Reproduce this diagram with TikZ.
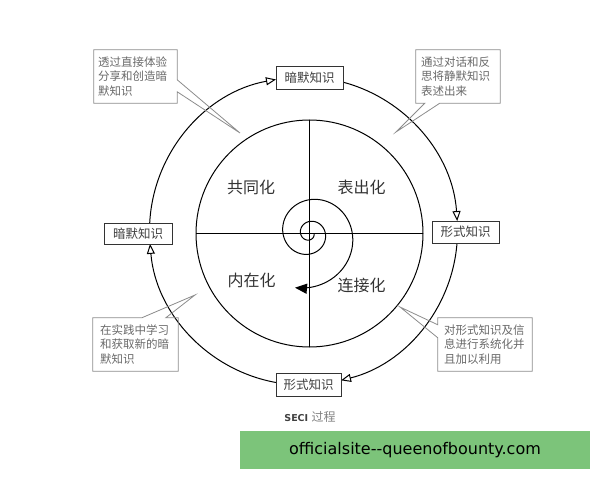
\documentclass[tikz,border=0pt]{standalone}
\usepackage{fontspec}
\newfontfamily\cjk{Noto Sans CJK SC}
\newfontfamily\sitefont{DejaVu Sans}[Ligatures=TeXOff]
\newfontfamily\capfont{DejaVu Sans}
\usepackage{tikz}
\usetikzlibrary{arrows.meta}
\definecolor{sitegreen}{RGB}{124,196,122}
\definecolor{notegray}{RGB}{105,105,105}

\begin{document}
\begin{tikzpicture}[x=1pt, y=1pt,
    cyc/.style={line width=1pt, -{Triangle[open, length=10pt, width=8pt]}},
    kbox/.style={draw=black!80, line width=0.9pt, fill=white, inner sep=0pt, minimum height=23pt,
        font=\cjk\fontsize{12.5}{14}\selectfont, text=black!75},
    quad/.style={font=\cjk\fontsize{16}{18}\selectfont, text=black!80},
    note/.style={inner sep=0pt, minimum height=53pt, align=left,
        font=\cjk\fontsize{11.5}{14.5}\selectfont, text=notegray},
    notebox/.style={draw=black!45, line width=0.8pt}]
    \useasboundingbox (0,0) rectangle (600,480);

    % outer cycle, clockwise
    \coordinate (O) at (303.5,249);
    \foreach \a/\b in {177/100.3, 75.1/3.7, -4.5/-75.9, 259.7/184.8}
        \draw[cyc] ([shift={(\a:154)}]O) arc[start angle=\a, end angle=\b, radius=154];

    \node[kbox, minimum width=67pt] (top) at (309.5,402.5) {暗默知识};
    \node[kbox, minimum width=67pt, minimum height=22pt] (right) at (465.5,248) {形式知识};
    \node[kbox, minimum width=65pt] (bottom) at (308.5,95.5) {形式知识};
    \node[kbox, minimum width=68pt, minimum height=21pt] (left) at (138,246.5) {暗默知识};

    % inner circle
    \coordinate (C) at (309.5,246.5);
    \draw[line width=1pt] (C) circle[radius=113.5];
    \draw[line width=1pt] ([yshift=113.5pt]C) -- ([yshift=-113.5pt]C);
    \draw[line width=1pt] ([xshift=-113.5pt]C) -- ([xshift=113.5pt]C);

    \node[quad] (soc) at (251,293) {共同化};
    \node[quad] (ext) at (361.7,293) {表出化};
    \node[quad] (int) at (251.7,199.3) {内在化};
    \node[quad] (com) at (361.7,195) {连接化};

    % spiral
    \draw[line width=1pt, shift={(C)}, -{Triangle[length=12pt, width=10pt]}]
        plot[domain=0:825, samples=240, variable=\t]
        ({(58*exp(0.002384*(\t-810))-4)*cos(\t)}, {-(58*exp(0.002384*(\t-810))-4)*sin(\t)});

    % notes
    \node[note, minimum width=83pt, text width=75pt] (n1) at (135.5,403.5) {透过直接体验\\分享和创造暗\\默知识};
    \coordinate (t1) at (240,347);
    \draw[notebox] (n1.north west) -- (n1.north east) -- ([yshift=-30pt]n1.north east) -- (t1)
        -- ([yshift=-42pt]n1.north east) -- (n1.south east) -- (n1.south west) -- cycle;

    \node[note, minimum width=84pt, text width=74pt] (n2) at (458,403.5) {通过对话和反\\思将静默知识\\表述出来};
    \coordinate (t2) at (396,348);
    \draw[notebox] (n2.south west) -- (n2.north west) -- (n2.north east) -- (n2.south east)
        -- ([xshift=24pt]n2.south west) -- (t2) -- ([xshift=9pt]n2.south west) -- cycle;

    \node[note, minimum width=85pt, text width=71pt] (n3) at (135.5,135.5) {在实践中学习\\和获取新的暗\\默知识};
    \coordinate (t3) at (195,185);
    \draw[notebox] (n3.north west) -- ([xshift=49pt]n3.north west) -- (t3) -- ([xshift=73pt]n3.north west)
        -- (n3.north east) -- (n3.south east) -- (n3.south west) -- cycle;

    \node[note, minimum width=94pt, text width=82pt] (n4) at (485,135.5) {对形式知识及信\\息进行系统化并\\且加以利用};
    \coordinate (t4) at (400,173);
    \draw[notebox] (n4.north west) -- (n4.north east) -- (n4.south east) -- (n4.south west)
        -- ([yshift=-20pt]n4.north west) -- (t4) -- ([yshift=-7pt]n4.north west) -- cycle;

    % caption and banner
    \node (cap) at (310,63) {{\capfont\bfseries\fontsize{9.5}{11}\selectfont\color{black!75}SECI}\ %
        {\cjk\fontsize{12}{14}\selectfont\color{black!50}过程}};
    \node[fill=sitegreen, minimum width=350pt, minimum height=38pt, inner sep=0pt,
        font=\sitefont\fontsize{16}{18}\selectfont] (site) at (415,30) {officialsite--queenofbounty.com};
\end{tikzpicture}
\end{document}
